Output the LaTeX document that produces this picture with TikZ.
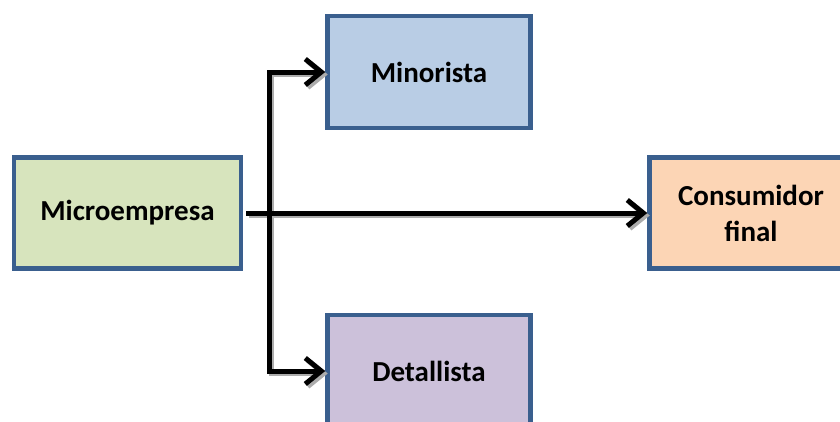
\documentclass[tikz,border=0pt]{standalone}
\usepackage{fontspec}
\setmainfont{Carlito}
\usetikzlibrary{arrows.meta,shadows}
\definecolor{bordc}{HTML}{3A5F8E}
\definecolor{cgreen}{HTML}{D7E4BD}
\definecolor{cblue}{HTML}{B9CDE5}
\definecolor{corange}{HTML}{FCD5B5}
\definecolor{cpurple}{HTML}{CCC1DA}
\tikzset{
  box/.style={draw=bordc, line width=4.5pt, minimum width=#1, inner sep=0pt, align=center,
    font=\fontsize{29}{36}\selectfont\bfseries,
    drop shadow={shadow xshift=2pt, shadow yshift=-2pt, opacity=0.35, fill=gray}},
  conn/.style={line width=5pt, draw=black, -{Straight Barb[length=16pt,width=26pt]}},
  connshadow/.style={line width=5pt, draw=gray!65, -{Straight Barb[length=16pt,width=26pt]}}
}
\begin{document}
\begin{tikzpicture}[x=1pt,y=-1pt]
\useasboundingbox (0,0) rectangle (840,421);
\node[box=227pt, minimum height=111pt, fill=cgreen] (me) at (127.5,213) {Microempresa};
\node[box=203pt, minimum height=112pt, fill=cblue] (mi) at (429,72) {Minorista};
\node[box=203pt, minimum height=111pt, fill=corange] (co) at (751,213) {Consumidor\\final};
\node[box=203pt, minimum height=112pt, fill=cpurple] (de) at (429,371) {Detallista};
\coordinate (j) at (269,213);
\begin{scope}[transform canvas={shift={(2.5pt,-2.5pt)}}]
\draw[connshadow, shorten <=3pt] (me.east) -- (co.west);
\draw[connshadow] (j) |- (mi.west);
\draw[connshadow] (j) |- (de.west);
\end{scope}
\draw[conn, shorten <=3pt] (me.east) -- (co.west);
\draw[conn] (j) |- (mi.west);
\draw[conn] (j) |- (de.west);
\end{tikzpicture}
\end{document}
